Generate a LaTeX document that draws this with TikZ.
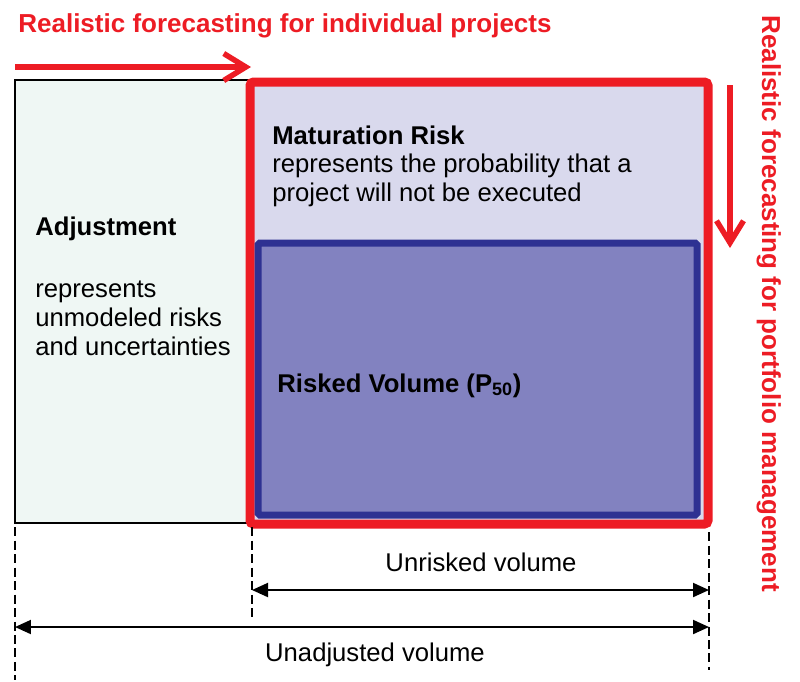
\documentclass[tikz,border=0pt]{standalone}
\usepackage{fontspec}
\setmainfont{Liberation Sans}
\usetikzlibrary{arrows.meta}

\definecolor{forecastred}{HTML}{ED1C24}
\definecolor{riskblue}{HTML}{2E3192}
\definecolor{riskfill}{HTML}{8282C0}
\definecolor{maturefill}{HTML}{D9D9ED}
\definecolor{adjustfill}{HTML}{EFF7F4}

\begin{document}
\begin{tikzpicture}[
    x=0.02cm, y=-0.02cm,
    txt/.style={font=\fontsize{14.6}{17}\selectfont, inner sep=0pt,
        anchor=base west},
    bold txt/.style={txt, font=\fontsize{14.6}{17}\selectfont\bfseries},
    red txt/.style={bold txt, font=\fontsize{14.8}{17}\selectfont\bfseries,
        text=forecastred},
    adjust box/.style={draw=black, line width=0.6pt, fill=adjustfill},
    mature box/.style={draw=forecastred, line width=1.8mm, fill=maturefill,
        rounded corners=2pt},
    risk box/.style={draw=riskblue, line width=1.4mm, fill=riskfill,
        rounded corners=1pt},
    flow/.style={draw=forecastred, line width=1.1mm,
        -{Straight Barb[length=4.4mm, width=5.4mm]}},
    guide/.style={draw=black, line width=0.35mm,
        dash pattern=on 1.8mm off 0.9mm},
    dim/.style={draw=black, line width=0.4mm,
        {Triangle[length=3.2mm, width=2.8mm]}-{Triangle[length=3.2mm, width=2.8mm]}}
]
    \path[use as bounding box] (0,0) rectangle (800,681);

    % The three volume boxes.
    \coordinate (adj nw) at (15,80);
    \coordinate (adj se) at (248,523);
    \coordinate (mat nw) at (250,82);
    \coordinate (mat se) at (708,524);
    \coordinate (risk nw) at (258,243);
    \coordinate (risk se) at (697,515);
    \draw[adjust box] (adj nw) rectangle (adj se);
    \draw[mature box] (mat nw) rectangle (mat se);
    \draw[risk box] (risk nw) rectangle (risk se);

    % Forecasting directions.
    \coordinate (proj start) at (15,67);
    \coordinate (proj end) at (251,67);
    \draw[flow] (proj start) -- (proj end);
    \node[red txt] (proj title) at (18,32)
        {Realistic forecasting for individual projects};

    \coordinate (port start) at (730,85);
    \coordinate (port end) at (730,248);
    \draw[flow] (port start) -- (port end);
    \node[red txt, rotate=-90] (port title) at (762,15)
        {Realistic forecasting for portfolio management};

    % Box texts.
    \node[bold txt] (adj title) at (35,235) {Adjustment};
    \node[txt] (adj line1) at (35,297) {represents};
    \node[txt] (adj line2) at (35,326) {unmodeled risks};
    \node[txt] (adj line3) at (35,355) {and uncertainties};

    \node[bold txt] (mat title) at (272,144) {Maturation Risk};
    \node[txt] (mat line1) at (272,172) {represents the probability that a};
    \node[txt] (mat line2) at (272,201) {project will not be executed};

    \node[bold txt] (risk title) at (277,392)
        {Risked Volume (P\textsubscript{50})};

    % Dimension lines.
    \coordinate (g1 top) at (15,527);
    \coordinate (g1 bot) at (15,680);
    \coordinate (g2 top) at (252,527);
    \coordinate (g2 bot) at (252,620);
    \coordinate (g3 top) at (709,532);
    \coordinate (g3 bot) at (709,670);
    \draw[guide] (g1 top) -- (g1 bot);
    \draw[guide] (g2 top) -- (g2 bot);
    \draw[guide] (g3 top) -- (g3 bot);

    \coordinate (unrisked l) at (252,590);
    \coordinate (unrisked r) at (709,590);
    \coordinate (unadj l) at (15,627);
    \coordinate (unadj r) at (709,627);
    \draw[dim] (unrisked l) -- (unrisked r);
    \draw[dim] (unadj l) -- (unadj r);
    \node[txt, anchor=base] (unrisked lbl) at (481,571) {Unrisked volume};
    \node[txt, anchor=base] (unadj lbl) at (375,661) {Unadjusted volume};
\end{tikzpicture}
\end{document}
